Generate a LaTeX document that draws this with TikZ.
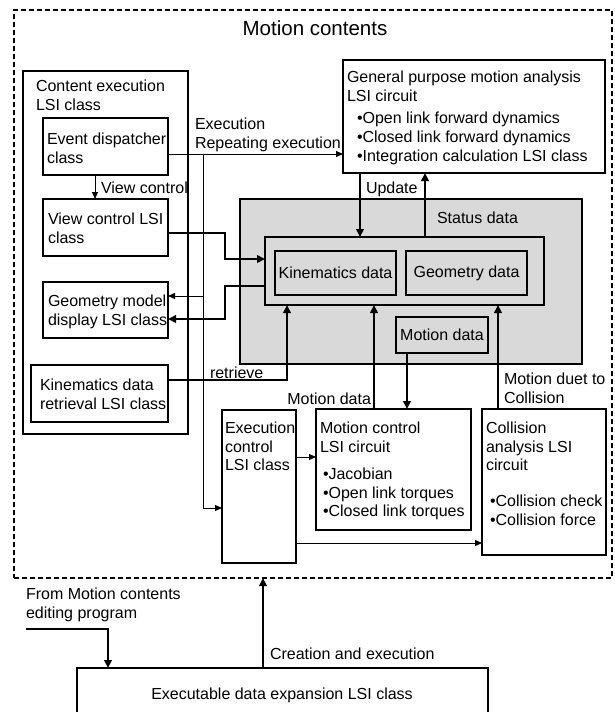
\documentclass[tikz,border=0pt]{standalone}
\usepackage{fontspec}
\setmainfont{Liberation Sans}
\usetikzlibrary{arrows.meta}
\newcommand{\fs}{\fontsize{16}{18.5}\selectfont}
\newcommand{\fsb}{\fontsize{16}{19}\selectfont}
\definecolor{sdgray}{RGB}{217,217,217}
\begin{document}
\begin{tikzpicture}[x=1pt,y=-1pt,
  box/.style={draw, line width=1.1pt, inner sep=0pt, outer sep=0pt, anchor=north west},
  txt/.style={inner sep=0pt, outer sep=0pt, anchor=north west, align=left, font=\fs},
  thinln/.style={line width=1pt},
  thinar/.style={line width=1pt, -{Triangle[length=7pt,width=6pt]}},
  thickar/.style={line width=2.4pt, -{Triangle[length=8pt,width=7.5pt]}},
  grayfill/.style={fill=sdgray}
]
\useasboundingbox (0,0) rectangle (615,712);
\clip (0,0) rectangle (615,712);

% boxes
\node[box, line width=1.2pt, dash pattern=on 5pt off 3pt, minimum width=598pt, minimum height=568pt] (outer) at (14,10) {};
\node[box, line width=2.4pt, minimum width=165pt, minimum height=363pt] (ce) at (23,71) {};
\node[box, minimum width=125pt, minimum height=57pt] (ed) at (43,118) {};
\node[box, minimum width=125pt, minimum height=57pt] (vc) at (43,199) {};
\node[box, minimum width=125pt, minimum height=56pt] (gm) at (43,282) {};
\node[box, minimum width=137pt, minimum height=57pt] (kr) at (31,365) {};
\node[box, minimum width=262pt, minimum height=113pt] (gp) at (343,60) {};
\node[box, grayfill, minimum width=342pt, minimum height=165pt] (sd) at (240,199) {};
\node[box, grayfill, minimum width=279pt, minimum height=68pt] (ib) at (265,237) {};
\node[box, grayfill, minimum width=121pt, minimum height=44pt, font=\fs] (kd) at (275,251) {Kinematics data};
\node[box, grayfill, minimum width=121pt, minimum height=44pt, font=\fs] (gd) at (406,251) {Geometry data};
\node[box, grayfill, minimum width=92pt, minimum height=36pt, font=\fs] (md) at (396,317) {Motion data};
\node[box, minimum width=74pt, minimum height=153pt] (ec) at (222,410) {};
\node[box, minimum width=155pt, minimum height=121pt] (mc) at (316,409) {};
\node[box, minimum width=124pt, minimum height=146pt] (ca) at (482,409) {};
\node[box, minimum width=411pt, minimum height=80pt] (bt) at (77,668) {};

% texts
\node[inner sep=0pt, anchor=north, font=\fontsize{20.5}{24}\selectfont] (title) at (315,20) {Motion contents};
\node[txt] (cet) at (36,80) {Content execution\\LSI class};
\node[txt] (edt) at (47,133) {Event dispatcher\\class};
\node[txt] (vcl) at (101,182) {View control};
\node[txt] (vct) at (48,213) {View control LSI\\class};
\node[txt] (gmt) at (48,295) {Geometry model\\display LSI class};
\node[txt] (krt) at (40,379) {Kinematics data\\retrieval LSI class};
\node[txt] (exl) at (195,118) {Execution\\Repeating execution};
\node[txt, font=\fsb] (gpt) at (347,71) {General purpose motion analysis\\LSI circuit};
\node[txt, font=\fsb] (gpb) at (357,112) {•Open link forward dynamics\\•Closed link forward dynamics\\•Integration calculation LSI class};
\node[txt] (upd) at (366,182) {Update};
\node[txt] (sdl) at (437,212) {Status data};
\node[txt] (ret) at (210,367) {retrieve};
\node[txt, anchor=north east] (mdl) at (371,393) {Motion data};
\node[txt] (mdc) at (504,373) {Motion duet to\\Collision};
\node[txt] (mct) at (320,422) {Motion control\\LSI circuit};
\node[txt] (mcb) at (323,468) {•Jacobian\\•Open link torques\\•Closed link torques};
\node[txt] (cat) at (486,422) {Collision\\analysis LSI\\circuit};
\node[txt] (cab) at (490,495) {•Collision check\\•Collision force};
\node[txt] (ect) at (225,422) {Execution\\control\\LSI class};
\node[txt] (frm) at (26,588) {From Motion contents\\editing program};
\node[txt] (cre) at (270,648) {Creation and execution};
\node[inner sep=0pt, anchor=north, font=\fs] (btt) at (282,688) {Executable data expansion LSI class};

% helper coordinates
\coordinate (r154) at (0,154);
\coordinate (j1) at (203,154);
\coordinate (j2) at (203,296);
\coordinate (j3) at (203,508);
\coordinate (v95) at (95,0);
\coordinate (b1) at (225,233);
\coordinate (b2) at (225,259);
\coordinate (b3) at (225,286);
\coordinate (b4) at (225,319);
\coordinate (b5) at (287,380);
\coordinate (v360) at (360,0);
\coordinate (v425) at (425,0);
\coordinate (v374) at (374,0);
\coordinate (v407) at (407,0);
\coordinate (v498) at (498,0);
\coordinate (r457) at (0,457);
\coordinate (r543) at (0,543);
\coordinate (f0) at (26,629);
\coordinate (f1) at (108,629);
\coordinate (v263) at (263,0);

% connectors
\draw[thinar] (ed.east |- r154) -- (gp.west |- r154);
\draw[thinln] (j1) -- (j3);
\draw[thinar] (j3) -- (ec.west |- j3);
\draw[thinar] (j2) -- (gm.east |- j2);
\draw[thinar] (ed.south -| v95) -- (vc.north -| v95);
\draw[thickar] (vc.east |- b1) -- (b1) -- (b2) -- (ib.west |- b2);
\draw[thickar] (ib.west |- b3) -- (b3) -- (b4) -- (gm.east |- b4);
\draw[thickar] (kr.east |- b5) -- (b5) -- (ib.south -| b5);
\draw[thickar] (gp.south -| v360) -- (ib.north -| v360);
\draw[thickar] (ib.north -| v425) -- (gp.south -| v425);
\draw[thickar] (mc.north -| v374) -- (ib.south -| v374);
\draw[thickar] (md.south -| v407) -- (mc.north -| v407);
\draw[thickar] (ca.north -| v498) -- (ib.south -| v498);
\draw[thinar] (ec.east |- r457) -- (mc.west |- r457);
\draw[thinar] (ec.east |- r543) -- (ca.west |- r543);
\draw[thickar] (f0) -- (f1) -- (bt.north -| f1);
\draw[thickar] (bt.north -| v263) -- (outer.south -| v263);
\end{tikzpicture}
\end{document}
